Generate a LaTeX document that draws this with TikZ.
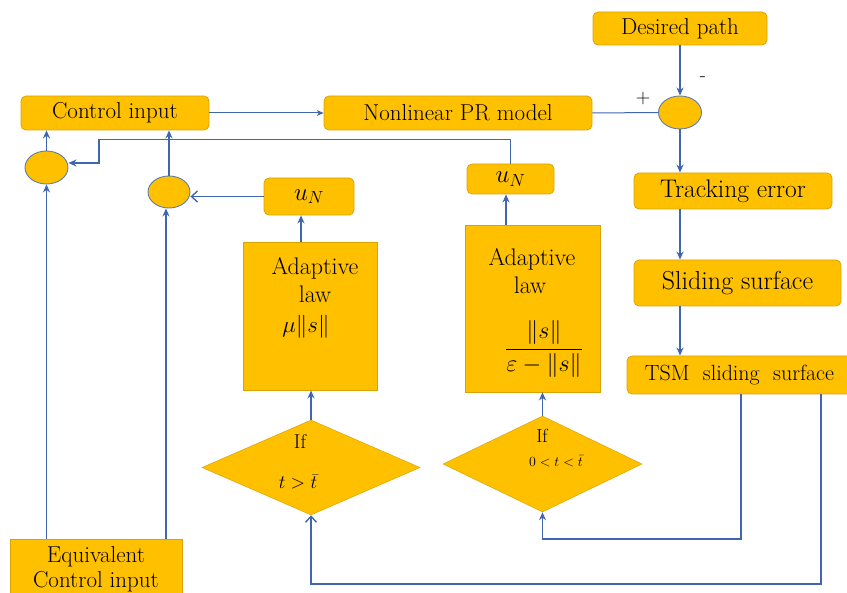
\RequirePackage{fix-cm}
\documentclass[tikz,border=0pt]{standalone}
\usetikzlibrary{shapes.geometric,arrows.meta}
\definecolor{gold}{HTML}{FFC000}
\definecolor{goldline}{HTML}{D9A400}
\definecolor{flow}{HTML}{3F66AE}
\definecolor{ringc}{HTML}{5F7BA8}
\begin{document}
\begin{tikzpicture}[x=1pt,y=-1pt,
  box/.style={draw=goldline,fill=gold,rounded corners=5pt,line width=0.8pt,inner sep=0pt,text=black},
  sqbox/.style={draw=goldline,fill=gold,line width=0.8pt,inner sep=0pt},
  sumnode/.style={ellipse,draw=ringc,fill=gold,line width=0.9pt,minimum width=43pt,minimum height=33pt,inner sep=0pt},
  dia/.style={diamond,fill=gold,draw=goldline,line width=0.5pt,inner sep=0pt},
  lbl/.style={inner sep=0pt,font=\fontsize{24}{28}\selectfont},
  flowline/.style={draw=flow,line width=1.4pt},
  thinline/.style={draw=flow,line width=1pt},
  arr/.style={flowline,-{Stealth[length=8pt,width=7pt]}},
  thinarr/.style={thinline,-{Stealth[length=7pt,width=6pt]}},
  barb/.style={flowline,-{Straight Barb[length=6pt,width=11pt]}},
]
\useasboundingbox (0,0) rectangle (847,593);

% boxes
\node[box,minimum width=174pt,minimum height=33pt,font=\fontsize{23}{27}\selectfont] (desired) at (680,28.5) {Desired path};
\node[box,minimum width=188pt,minimum height=34pt,font=\fontsize{23}{27}\selectfont] (ctrl) at (115,113) {Control input};
\node[box,minimum width=268pt,minimum height=34pt,font=\fontsize{23}{27}\selectfont] (plant) at (458,113) {Nonlinear PR model};
\node[box,minimum width=198pt,minimum height=36pt,font=\fontsize{25.5}{30}\selectfont] (track) at (733,191) {Tracking error};
\node[box,minimum width=207pt,minimum height=46pt,font=\fontsize{26}{30}\selectfont] (slide) at (737.5,283) {Sliding surface};
\node[box,minimum width=225pt,minimum height=38pt,font=\fontsize{22}{26}\selectfont] (tsm) at (739.5,375) {TSM\ \ sliding\ \ surface};
\node[sqbox,minimum width=172pt,minimum height=61pt,align=center,font=\fontsize{23}{25}\selectfont] (equiv) at (96,569.5) {Equivalent\\Control input};

\node[box,minimum width=90pt,minimum height=37pt,font=\fontsize{25}{30}\selectfont] (un1) at (309,196.5) {$u_N$};
\node[box,minimum width=87pt,minimum height=30pt,font=\fontsize{25}{30}\selectfont] (un2) at (510.5,179) {$u_N$};

\node[sqbox,minimum width=134pt,minimum height=148pt] (ad1) at (310,316) {};
\node[lbl] (ad1a) at (315,268) {Adaptive};
\node[lbl] (ad1b) at (315,294) {law};
\node[lbl,font=\fontsize{23}{26}\selectfont] (ad1c) at (306,327) {$\mu\|s\|$};

\node[sqbox,minimum width=135pt,minimum height=167pt] (ad2) at (532.5,308.5) {};
\node[lbl] (ad2a) at (532,259) {Adaptive};
\node[lbl] (ad2b) at (530,285) {law};
\node[lbl,font=\fontsize{24}{28}\selectfont] (ad2c) at (544,349) {$\displaystyle\frac{\|s\|}{\varepsilon-\|s\|}$};

% diamonds
\node[dia,minimum width=218pt,minimum height=95pt] (dia1) at (311,467.5) {};
\node[lbl,font=\fontsize{20}{24}\selectfont] (dia1a) at (300,441) {If};
\node[lbl,font=\fontsize{19}{23}\selectfont] (dia1b) at (298,482) {$t>\bar{t}$};
\node[dia,minimum width=199pt,minimum height=96pt] (dia2) at (542.5,464) {};
\node[lbl,font=\fontsize{19}{23}\selectfont] (dia2a) at (542,436) {If};
\node[lbl,font=\fontsize{14}{17}\selectfont] (dia2b) at (556,461) {$0<t<\bar{t}$};

% summing points
\node[sumnode] (sumtop) at (680,112.5) {};
\node[sumnode] (c1) at (46.5,167.5) {};
\node[sumnode,minimum width=42pt,minimum height=32pt] (c2) at (169,192) {};

\node[lbl,font=\fontsize{20}{24}\selectfont] (plus) at (643,99) {+};
\node[lbl,font=\fontsize{20}{24}\selectfont] (minus) at (703,79) {-};

% helper coordinates
\coordinate (xa) at (301,0);
\coordinate (xb) at (506,0);
\coordinate (xe) at (166,0);
\coordinate (k1) at (99,163);
\coordinate (tA) at (741,0);
\coordinate (tB) at (821,0);

% connectors
\draw[arr] (desired.south) -- (sumtop.north);
\draw[thinline] (plant.east) -- (sumtop.west);
\draw[arr] (sumtop.south) -- (sumtop.south |- track.north);
\draw[arr] (track.south -| sumtop) -- (slide.north -| sumtop);
\draw[arr] (slide.south -| sumtop) -- (tsm.north -| sumtop);
\draw[thinarr] (ctrl.east) -- (plant.west);

\draw[arr] (tsm.south -| tA) -- (741,539) -| (dia2.south);
\draw[barb] (tsm.south -| tB) -- (821,584) -| (dia1.south);

\draw[arr] (dia1.north) -- (dia1.north |- ad1.south);
\draw[arr] (dia2.north) -- (dia2.north |- ad2.south);
\draw[arr] (ad1.north -| xa) -- (un1.south -| xa);
\draw[arr] (ad2.north -| xb) -- (un2.south -| xb);

\draw[barb] (un1.west) -- (c2.east |- un1.west);
\draw[arr] (un2.north) -- ++(0,-24) -| (k1) -- (k1 -| c1.east);

\draw[arr] (c1.north) -- (c1.north |- ctrl.south);
\draw[arr] (c2.north) -- (c2.north |- ctrl.south);
\draw[arr] (c1.south |- equiv.north) -- (c1.south);
\draw[arr] (equiv.north -| xe) -- (xe |- c2.south);
\end{tikzpicture}
\end{document}
